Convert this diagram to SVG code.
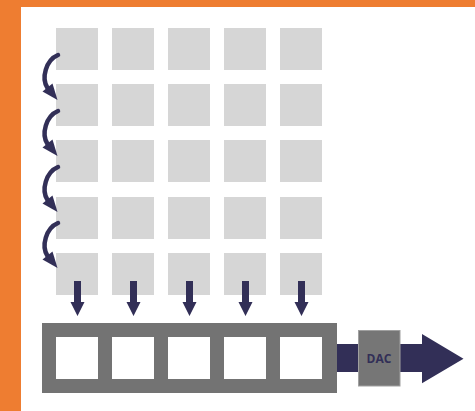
<svg xmlns="http://www.w3.org/2000/svg" width="475" height="411" viewBox="0 0 475 411">
<style>
.cell{fill:#d6d6d6}
.slot{fill:#ffffff}
.bar{fill:#737373}
.navy{fill:#322f57}
.curve{fill:none;stroke:#322f57;stroke-width:4.5;stroke-linecap:round}
.lbl{font-family:"Open Sans","Liberation Sans",sans-serif;font-weight:bold;font-size:12px;fill:#322f57;text-anchor:middle}
</style>
<rect x="0" y="0" width="475" height="411" fill="#ffffff"/>
<rect x="0" y="0" width="475" height="7" fill="#ee7d31"/>
<rect x="0" y="0" width="21" height="411" fill="#ee7d31"/>
<g id="grid">
<rect class="cell" x="56" y="28" width="42" height="42"/><rect class="cell" x="112" y="28" width="42" height="42"/><rect class="cell" x="168" y="28" width="42" height="42"/><rect class="cell" x="224" y="28" width="42" height="42"/><rect class="cell" x="280" y="28" width="42" height="42"/>
<rect class="cell" x="56" y="84" width="42" height="42"/><rect class="cell" x="112" y="84" width="42" height="42"/><rect class="cell" x="168" y="84" width="42" height="42"/><rect class="cell" x="224" y="84" width="42" height="42"/><rect class="cell" x="280" y="84" width="42" height="42"/>
<rect class="cell" x="56" y="140" width="42" height="42"/><rect class="cell" x="112" y="140" width="42" height="42"/><rect class="cell" x="168" y="140" width="42" height="42"/><rect class="cell" x="224" y="140" width="42" height="42"/><rect class="cell" x="280" y="140" width="42" height="42"/>
<rect class="cell" x="56" y="197" width="42" height="42"/><rect class="cell" x="112" y="197" width="42" height="42"/><rect class="cell" x="168" y="197" width="42" height="42"/><rect class="cell" x="224" y="197" width="42" height="42"/><rect class="cell" x="280" y="197" width="42" height="42"/>
<rect class="cell" x="56" y="253" width="42" height="42"/><rect class="cell" x="112" y="253" width="42" height="42"/><rect class="cell" x="168" y="253" width="42" height="42"/><rect class="cell" x="224" y="253" width="42" height="42"/><rect class="cell" x="280" y="253" width="42" height="42"/>
</g>
<g id="register">
<rect class="bar" x="42" y="323" width="295" height="70"/>
<rect class="slot" x="56" y="337" width="42" height="42"/><rect class="slot" x="112" y="337" width="42" height="42"/><rect class="slot" x="168" y="337" width="42" height="42"/><rect class="slot" x="224" y="337" width="42" height="42"/><rect class="slot" x="280" y="337" width="42" height="42"/>
</g>
<g id="connectors">
<g id="curves">
<path class="curve" d="M58,55 C46,60 41,78 47.5,88"/><polygon class="navy" points="42.5,91.5 52.5,83.5 57.5,100"/>
<path class="curve" d="M58,111 C46,116 41,134 47.5,144"/><polygon class="navy" points="42.5,147.5 52.5,139.5 57.5,156"/>
<path class="curve" d="M58,167 C46,172 41,190 47.5,200"/><polygon class="navy" points="42.5,203.5 52.5,195.5 57.5,212"/>
<path class="curve" d="M58,223 C46,228 41,246 47.5,256"/><polygon class="navy" points="42.5,259.5 52.5,251.5 57.5,268"/>
</g>
<g id="down-arrows">
<path class="navy" d="M74,281 h7 v21 h3.5 l-7,14 l-7,-14 h3.5 z"/>
<path class="navy" d="M130,281 h7 v21 h3.5 l-7,14 l-7,-14 h3.5 z"/>
<path class="navy" d="M186,281 h7 v21 h3.5 l-7,14 l-7,-14 h3.5 z"/>
<path class="navy" d="M242,281 h7 v21 h3.5 l-7,14 l-7,-14 h3.5 z"/>
<path class="navy" d="M298,281 h7 v21 h3.5 l-7,14 l-7,-14 h3.5 z"/>
</g>
<path id="output-arrow" class="navy" d="M337,344 H422 V334 L463.5,358.7 L422,383.3 V372 H337 Z"/>
</g>
<g id="dac">
<rect x="358.5" y="330.5" width="41.5" height="55.5" fill="#767676" stroke="#a0a0a0" stroke-width="1"/>
<text class="lbl" x="379" y="363">DAC</text>
</g>
</svg>
